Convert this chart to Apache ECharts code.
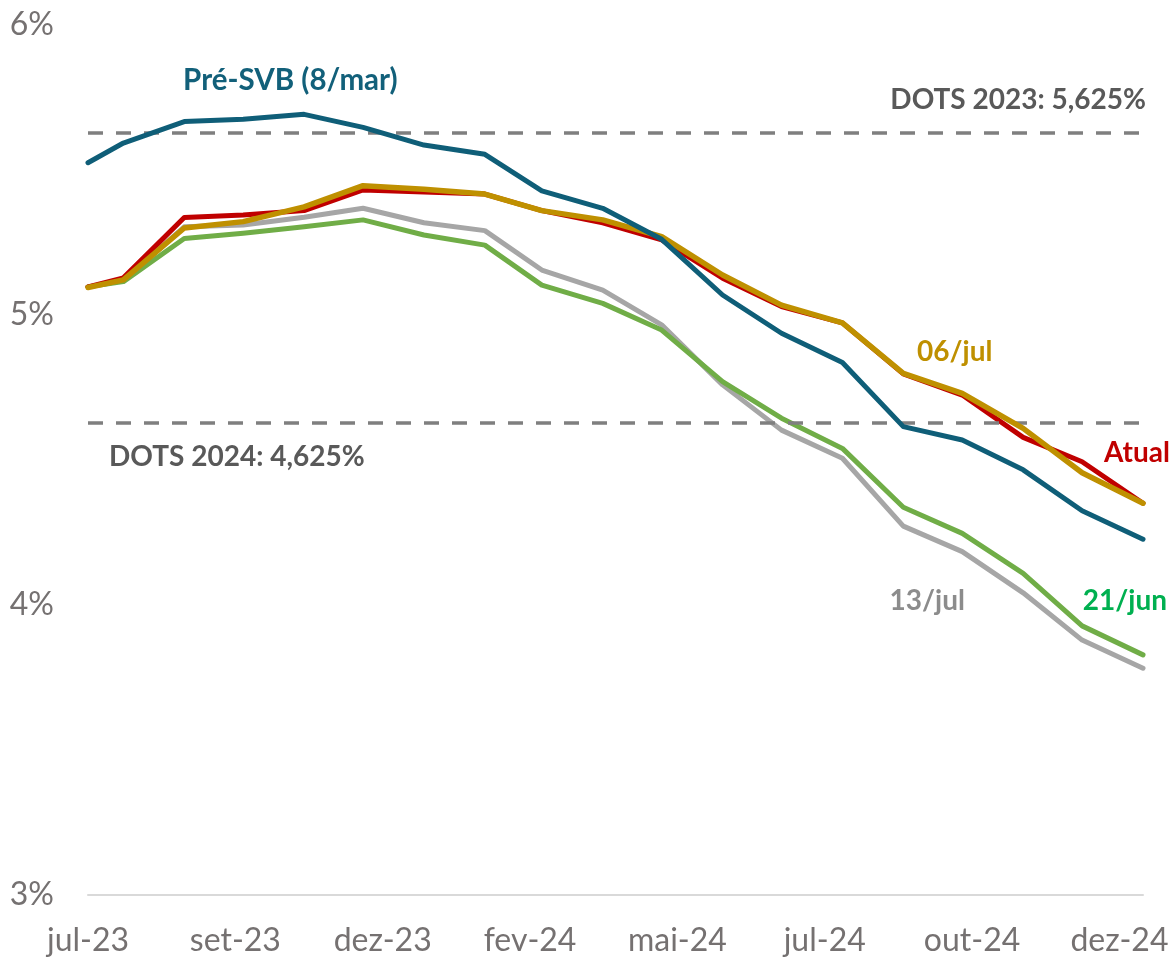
<!DOCTYPE html>
<html>
<head>
<meta charset="utf-8">
<script src="https://cdn.jsdelivr.net/npm/echarts@6/dist/echarts.min.js"></script>
<style>
html,body{margin:0;padding:0;background:#fff;}
#chart{width:1175px;height:963px;}
</style>
</head>
<body>
<div id="chart"></div>
<script>
// ---- data ----
const dates = ['2023-07-13','2023-07-31','2023-08-31','2023-09-30','2023-10-31','2023-11-30','2023-12-31',
  '2024-01-31','2024-02-29','2024-03-31','2024-04-30','2024-05-31','2024-06-30','2024-07-31','2024-08-31',
  '2024-09-30','2024-10-31','2024-11-30','2024-12-31'];
const preSVB = [5.525,5.593,5.667,5.675,5.692,5.647,5.586,5.554,5.428,5.368,5.261,5.069,4.937,4.836,4.615,4.569,4.466,4.325,4.227];
const atual  = [5.097,5.128,5.336,5.345,5.360,5.431,5.424,5.417,5.360,5.318,5.259,5.127,5.029,4.973,4.797,4.724,4.578,4.494,4.351];
const jul06  = [5.095,5.121,5.300,5.322,5.373,5.446,5.434,5.417,5.360,5.328,5.270,5.138,5.034,4.973,4.799,4.730,4.609,4.456,4.351];
const jul13  = [5.097,5.120,5.304,5.310,5.337,5.368,5.318,5.291,5.155,5.086,4.966,4.759,4.603,4.506,4.272,4.184,4.042,3.879,3.782];
const jun21  = [5.097,5.115,5.264,5.282,5.304,5.328,5.276,5.241,5.103,5.040,4.948,4.770,4.644,4.540,4.337,4.247,4.109,3.928,3.828];
const dots2023 = 5.625;
const dots2024 = 4.625;
const xTickLabels = ['jul-23','set-23','dez-23','fev-24','mai-24','jul-24','out-24','dez-24'];
const xTickStepDays = 75;
const yTicks = [3,4,5,6];

// ---- helpers ----
const t0 = Date.UTC(2023,6,13);
function dayOf(s){const p=s.split('-').map(Number);return Math.round((Date.UTC(p[0],p[1]-1,p[2])-t0)/86400000);}
const days = dates.map(dayOf);
const pair = arr => arr.map((v,i)=>[days[i],v]);
const FONT = 'Lato, "Noto Sans", sans-serif';

const chart = echarts.init(document.getElementById('chart'));

function lineSeries(name, data, color, width, z){
  return {name, type:'line', data:pair(data), symbol:'none', z:z,
    lineStyle:{color, width, cap:'round', join:'round'}, emphasis:{disabled:true}, silent:true};
}

// annotation anchors in data units [day, value]
const annot = [
  {text:'Pré-SVB (8/mar)', color:'#12607A', at:[103,5.807], align:'center', size:29.5},
  {text:'DOTS 2023: 5,625%', color:'#595959', at:[538.5,5.741], align:'right', size:28},
  {text:'DOTS 2024: 4,625%', color:'#595959', at:[10.7,4.510], align:'left', size:28},
  {text:'06/jul', color:'#BF9000', at:[422,4.872], align:'left', size:28},
  {text:'Atual', color:'#C00000', at:[550.7,4.524], align:'right', size:28},
  {text:'13/jul', color:'#8C8C8C', at:[408,4.014], align:'left', size:28},
  {text:'21/jun', color:'#00B050', at:[549.2,4.014], align:'right', size:28}
];

const series = [
  lineSeries('13/jul', jul13, '#A6A6A6', 5, 2),
  lineSeries('21/jun', jun21, '#70AD47', 5, 3),
  lineSeries('Atual', atual, '#C00000', 5, 4),
  lineSeries('06/jul', jul06, '#BF9000', 5.5, 5),
  lineSeries('Pré-SVB (8/mar)', preSVB, '#0F5E78', 5, 6)
];
series.push({
  type:'line', data:[], silent:true, z:1,
  markLine:{symbol:'none', silent:true, label:{show:false},
    lineStyle:{color:'#7F7F7F', width:3.5, type:[15,13]},
    data:[{yAxis:dots2023},{yAxis:dots2024}]}
});

chart.setOption({
  animation:false,
  backgroundColor:'#ffffff',
  grid:{left:88, right:32, top:25, bottom:68, containLabel:false},
  xAxis:{type:'value', min:0, max:days[days.length-1], interval:xTickStepDays,
    axisLine:{show:true, lineStyle:{color:'#D9D9D9', width:2}},
    axisTick:{show:false}, splitLine:{show:false},
    axisLabel:{showMaxLabel:false, margin:30, color:'#757171', fontFamily:FONT, fontSize:32,
      formatter:v=> (v % xTickStepDays === 0 && xTickLabels[v/xTickStepDays]) ? xTickLabels[v/xTickStepDays] : ''}},
  yAxis:{type:'value', min:yTicks[0], max:yTicks[yTicks.length-1], interval:1,
    axisLine:{show:false}, axisTick:{show:false}, splitLine:{show:false},
    axisLabel:{margin:34, color:'#757171', fontFamily:FONT, fontSize:32, formatter:v=>v+'%'}},
  series
});

chart.setOption({
  graphic: annot.map(a=>{
    const p = chart.convertToPixel({gridIndex:0}, a.at);
    return {type:'text', x:p[0], y:p[1], z:100, silent:true,
      style:{text:a.text, fill:a.color, font:'bold '+a.size+'px '+FONT,
        textAlign:a.align, textVerticalAlign:'middle'}};
  })
});
</script>
</body>
</html>
